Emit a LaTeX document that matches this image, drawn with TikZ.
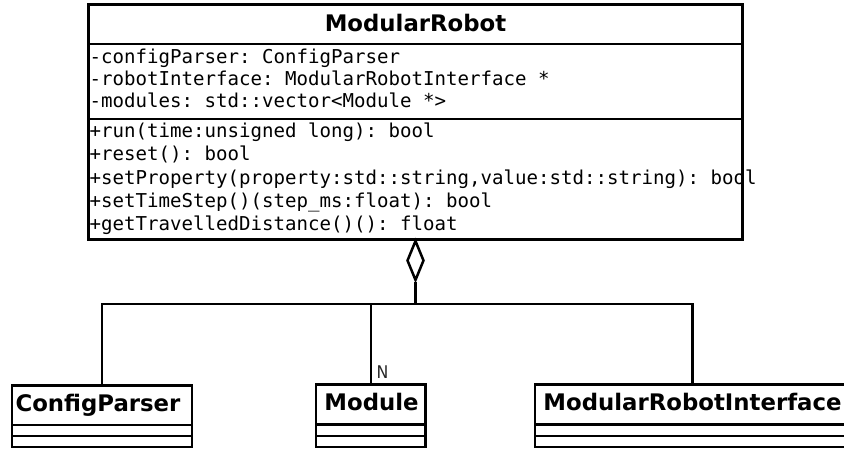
\documentclass[tikz,border=0pt]{standalone}
\usepackage{fontspec}
\usetikzlibrary{shapes.geometric}
\newfontfamily\monofam{DejaVu Sans Mono}
\newfontfamily\sansfam{DejaVu Sans}
\newfontfamily\condfam{DejaVu Sans Condensed}
\newcommand{\monotext}{\monofam\fontsize{19.1}{23}\selectfont\frenchspacing}
\newcommand{\titletext}{\sansfam\bfseries\fontsize{22.8}{27}\selectfont}
\newcommand{\labeltext}{\condfam\fontsize{17.5}{20}\selectfont}
\frenchspacing
\tikzset{
  umlbox/.style={draw=black, line width=2.8pt, inner sep=0pt, outer sep=0pt, fill=white},
  sepline/.style={line width=2.6pt},
  conn/.style={line width=2.5pt, line join=miter},
  member/.style={font=\monotext, anchor=base west, inner sep=0pt},
  classtitle/.style={font=\titletext, anchor=base, inner sep=0pt},
  aggdiamond/.style={diamond, draw=black, line width=2.5pt, fill=white, inner sep=0pt,
    minimum width=17pt, minimum height=40pt},
  multlabel/.style={font=\labeltext, text=black!85, inner sep=0pt}
}
\begin{document}
\begin{tikzpicture}[x=1pt,y=-1pt]
\clip (0,0) rectangle (844,448);
\fill[white] (0,0) rectangle (844,448);

% ModularRobot class
\node[umlbox, line width=3pt, minimum width=654.5pt, minimum height=235.5pt] (mr) at (415.25,121.75) {};
\draw[sepline] (mr.west |- 0,44) -- (mr.east |- 0,44);
\draw[sepline] (mr.west |- 0,119) -- (mr.east |- 0,119);
\node[classtitle] (mrtitle) at (415.5,31.5) {ModularRobot};
\node[member] (a1) at (89.5,63) {-configParser: ConfigParser};
\node[member] (a2) at (89.5,85) {-robotInterface: ModularRobotInterface *};
\node[member] (a3) at (89.5,107) {-modules: std::vector<Module *>};
\node[member] (m1) at (89.5,137) {+run(time:unsigned long): bool};
\node[member] (m2) at (89.5,160.5) {+reset(): bool};
\node[member] (m3) at (89.5,184) {+setProperty(property:std::string,value:std::string): bool};
\node[member] (m4) at (89.5,207) {+setTimeStep()(step\_ms:float): bool};
\node[member] (m5) at (89.5,230) {+getTravelledDistance()(): float};

% ConfigParser class
\node[umlbox, minimum width=180pt, minimum height=61.5pt] (cp) at (102,416.25) {};
\draw[sepline] (cp.west |- 0,424.8) -- (cp.east |- 0,424.8);
\draw[sepline] (cp.west |- 0,436) -- (cp.east |- 0,436);
\node[classtitle] (cptitle) at (98,411) {ConfigParser};

% Module class
\node[umlbox, minimum width=109.7pt, minimum height=62.7pt] (mod) at (370.85,415.65) {};
\draw[sepline] (mod.west |- 0,424.5) -- (mod.east |- 0,424.5);
\draw[sepline] (mod.west |- 0,436) -- (mod.east |- 0,436);
\node[classtitle] (modtitle) at (371.5,410.5) {Module};

% ModularRobotInterface class
\node[umlbox, minimum width=315pt, minimum height=62.7pt] (mri) at (692.5,415.65) {};
\draw[sepline] (mri.west |- 0,424.5) -- (mri.east |- 0,424.5);
\draw[sepline] (mri.west |- 0,436) -- (mri.east |- 0,436);
\node[classtitle] (mrititle) at (692.5,410.5) {ModularRobotInterface};

% aggregation
\node[aggdiamond] (dia) at (415.5,260.5) {};
\coordinate (junc) at (415.5,304);
\draw[conn] (dia.south) -- (junc);
\draw[conn] (junc) -| (cp.north);
\draw[conn] (junc) -| (mod.north);
\draw[conn] (junc) -| (mri.north);
\node[multlabel] (nlabel) at (382.5,372) {N};
\end{tikzpicture}
\end{document}
